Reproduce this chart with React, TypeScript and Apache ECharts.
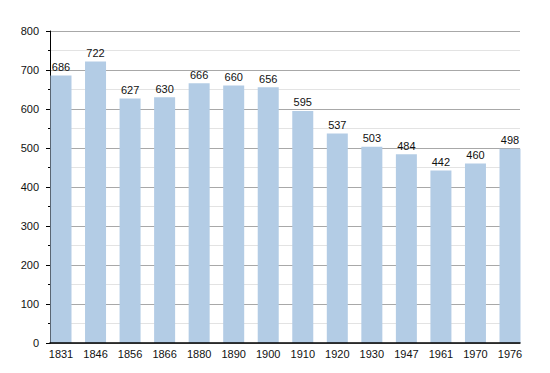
import React, { useEffect, useRef } from "react";
import * as echarts from "echarts";

const years = ["1831", "1846", "1856", "1866", "1880", "1890", "1900", "1910", "1920", "1930", "1947", "1961", "1970", "1976"];
const population = [686, 722, 627, 630, 666, 660, 656, 595, 537, 503, 484, 442, 460, 498];
const yTicks = { min: 0, max: 800, interval: 100 };

export default function App() {
  const ref = useRef<HTMLDivElement>(null);
  useEffect(() => {
    if (!ref.current) return;
    const chart = echarts.init(ref.current, null, { renderer: "svg" });
    const font = "'Liberation Sans', Arial, sans-serif";
    chart.setOption({
      animation: false,
      backgroundColor: "#ffffff",
      grid: [
        { left: 50, right: 30, top: 31, bottom: 30 },
        { left: 61, right: 40, top: 31, bottom: 30 },
      ],
      xAxis: [
        {
          type: "value",
          gridIndex: 0,
          min: 0,
          max: 1,
          z: 10,
          axisLine: { show: true, onZero: false, lineStyle: { color: "#000", width: 1.5 } },
          axisTick: { show: false },
          axisLabel: { show: false },
          splitLine: { show: false },
        },
        {
          type: "category",
          gridIndex: 1,
          data: years,
          boundaryGap: false,
          axisLine: { show: false },
          axisTick: { show: false },
          axisLabel: { color: "#111", fontSize: 11, fontFamily: font, margin: 5 },
          splitLine: { show: false },
        },
      ],
      yAxis: [
        {
          type: "value",
          gridIndex: 0,
          min: yTicks.min,
          max: yTicks.max,
          interval: yTicks.interval,
          z: 0,
          axisLine: { show: true, lineStyle: { color: "#000", width: 1 } },
          axisTick: { show: true, length: 4, lineStyle: { color: "#000" } },
          minorTick: { show: true, splitNumber: 2, length: 2, lineStyle: { color: "#000" } },
          axisLabel: { color: "#111", fontSize: 11, fontFamily: font, margin: 11 },
          splitLine: { show: true, lineStyle: { color: "#a8a8a8", width: 1 } },
          minorSplitLine: { show: true, lineStyle: { color: "#e3e3e3", width: 1 } },
        },
        {
          type: "value",
          gridIndex: 1,
          min: yTicks.min,
          max: yTicks.max,
          show: false,
        },
      ],
      series: [
        {
          type: "bar",
          xAxisIndex: 1,
          yAxisIndex: 1,
          z: 5,
          data: population,
          barWidth: 21,
          itemStyle: { color: "#b3cce5" },
          label: {
            show: true,
            position: "top",
            distance: 3,
            color: "#111",
            fontSize: 11,
            fontFamily: font,
            textBorderWidth: 0,
          },
        },
      ],
    });
    return () => chart.dispose();
  }, []);
  return <div ref={ref} style={{ width: 550, height: 373, position: "absolute", left: 0, top: 0 }} />;
}
